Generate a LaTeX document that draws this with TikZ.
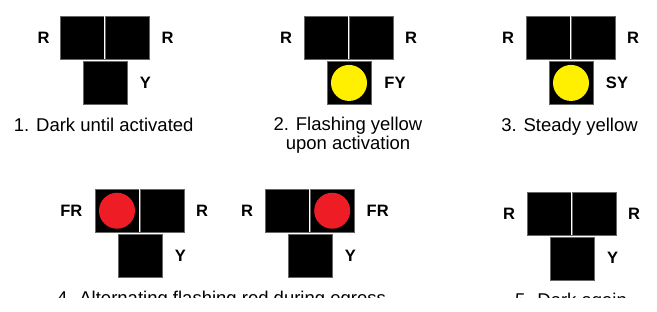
\documentclass[tikz,border=0pt]{standalone}
\usepackage{fontspec}
\setmainfont{Liberation Sans}
\definecolor{lampyellow}{HTML}{FFF000}
\definecolor{lampred}{HTML}{EE1D25}
\begin{document}
\begin{tikzpicture}[x=1pt,y=-1pt,
  lampbox/.style={rectangle,draw=black!60,line width=0.7pt,fill=black,
    minimum width=44pt,minimum height=43.5pt,inner sep=0pt,outer sep=0pt,anchor=north west},
  sepline/.style={draw=white,line width=1.1pt},
  yellowlamp/.style={circle,fill=lampyellow,minimum size=36pt,inner sep=0pt},
  redlamp/.style={circle,fill=lampred,minimum size=36pt,inner sep=0pt},
  lbl/.style={font=\bfseries\fontsize{16.5}{18}\selectfont,inner sep=0pt,anchor=base},
  captext/.style={font=\fontsize{18.5}{19}\selectfont,inner sep=0pt,anchor=base,align=center}]
\useasboundingbox[fill=white] (0,0) rectangle (657,312);
\newcommand\trafficsig[3]{%
  \node[lampbox] (#1l) at (#2,#3) {};
  \node[lampbox] (#1r) at (#2+45.2,#3) {};
  \node[lampbox] (#1b) at (#2+23,#3+45.2) {};
  \path[sepline] ([xshift=0.6pt]#1l.north east) -- ([xshift=0.6pt]#1l.south east);
}
% Signal 1
\trafficsig{a}{60}{16}
\node[lbl] (aL) at (43.5,43.5) {R};
\node[lbl] (aR) at (167.5,43.5) {R};
\node[lbl] (aY) at (145.5,89) {Y};
\node[captext] (acap) at (103.7,131.5) {1. Dark until activated};
% Signal 2
\trafficsig{b}{304}{16}
\node[yellowlamp] (bY1) at (bb.center) {};
\node[lbl] (bL) at (286,43.5) {R};
\node[lbl] (bR) at (411,43.5) {R};
\node[lbl] (bY) at (395,89) {FY};
\node[captext,anchor=north] (bcap) at (348,117) {2. Flashing yellow\\upon activation};
% Signal 3
\trafficsig{c}{526}{16}
\node[yellowlamp] (cY1) at (cb.center) {};
\node[lbl] (cL) at (508,43.5) {R};
\node[lbl] (cR) at (633,43.5) {R};
\node[lbl] (cY) at (617,89) {SY};
\node[captext] (ccap) at (569.5,131.5) {3. Steady yellow};
% Signal 4a
\trafficsig{d}{95}{189}
\node[redlamp] (dR1) at (dl.center) {};
\node[lbl] (dL) at (71.3,217) {FR};
\node[lbl] (dR) at (202,217) {R};
\node[lbl] (dY) at (180.5,262) {Y};
% Signal 4b
\trafficsig{e}{265}{189}
\node[redlamp] (eR1) at (er.center) {};
\node[lbl] (eL) at (247,217) {R};
\node[lbl] (eR) at (377.7,217) {FR};
\node[lbl] (eY) at (350.5,262) {Y};
% Signal 5
\trafficsig{f}{527}{192}
\node[lbl] (fL) at (509,219.5) {R};
\node[lbl] (fR) at (634,219.5) {R};
\node[lbl] (fY) at (612.5,264) {Y};
% clipped captions
\begin{scope}
\clip (0,0) rectangle (657,298);
\node[captext] (dcap) at (221.5,304.5) {4. Alternating flashing red during egress};
\node[captext] (fcap) at (571,306.5) {5. Dark again};
\end{scope}
\end{tikzpicture}
\end{document}
